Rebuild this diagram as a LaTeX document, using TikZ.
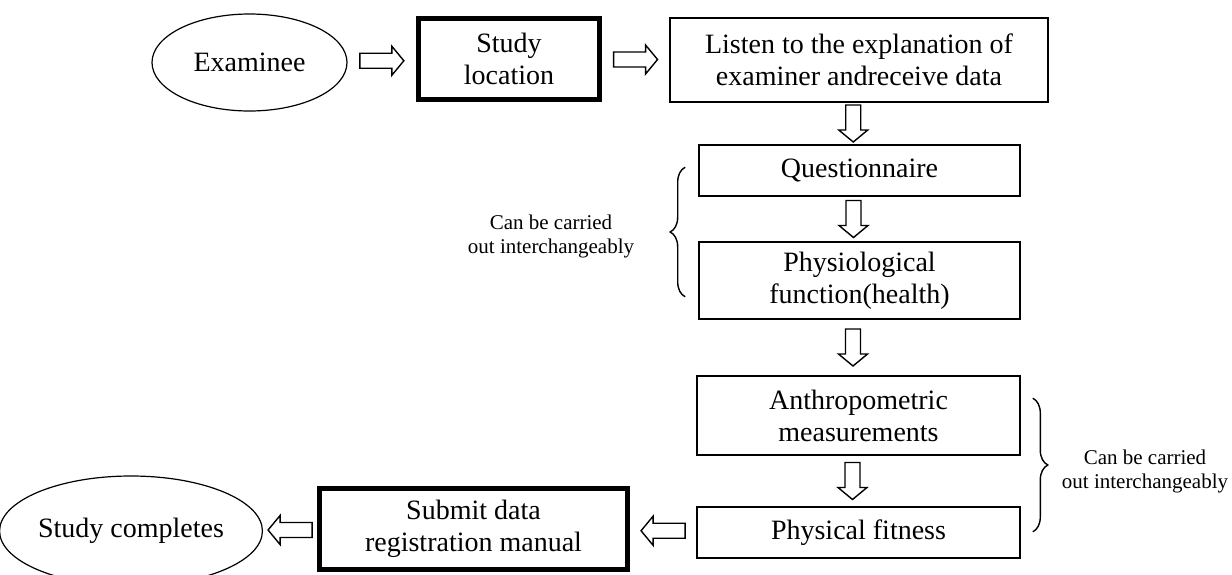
\documentclass[tikz,border=0pt]{standalone}
\usepackage{fontspec}
\setmainfont{Liberation Serif}
\usepackage{tikz}
\usetikzlibrary{shapes,arrows,positioning,calc,decorations.pathreplacing}

\begin{document}
\begin{tikzpicture}[x=0.5pt, y=-0.5pt,
  process/.style={rectangle, draw, line width=0.8pt, align=center, inner sep=0pt, font=\fontsize{14}{16}\selectfont},
  boldprocess/.style={process, line width=2.4pt},
  terminal/.style={ellipse, draw, line width=0.6pt, inner sep=0pt, font=\fontsize{14}{16}\selectfont},
  remark/.style={align=center, font=\fontsize{10.5}{12}\selectfont},
  curly/.style={decorate, decoration={brace, amplitude=7.5pt}, line width=0.7pt},
  flow/.pic={\draw[line width=0.7pt] (-#1,-7.5) -- (#1-12,-7.5) -- (#1-12,-14.5) -- (#1,0) -- (#1-12,14.5) -- (#1-12,7.5) -- (-#1,7.5) -- cycle;}
]
\useasboundingbox (0,0) rectangle (1232,574);

% Top row
\node[terminal, minimum width=97.5pt, minimum height=48.5pt] (examinee) at (249.5,62.5) {Examinee};
\node[boldprocess, minimum width=90.5pt, minimum height=40.5pt] (location) at (509,59) {Study\\location};
\node[process, minimum width=189pt, minimum height=42pt] (listen) at (859,60) {Listen to the explanation of\\examiner andreceive data};

% Main column
\node[process, minimum width=160.5pt, minimum height=25.5pt] (quest) at (859.5,170.5) {Questionnaire};
\node[process, minimum width=160.5pt, minimum height=38.5pt] (physio) at (859.5,280.5) {Physiological\\function(health)};
\node[process, minimum width=161.5pt, minimum height=39.5pt] (anthro) at (858.5,415.5) {Anthropometric\\measurements};
\node[process, minimum width=161.5pt, minimum height=25.5pt] (fitness) at (858.5,532.5) {Physical fitness};

% Bottom row
\node[boldprocess, minimum width=154pt, minimum height=40.5pt] (submit) at (473.5,529) {Submit data\\registration manual};
\node[terminal, minimum width=119pt, minimum height=55pt] (complete) at (131,531) {Study completes};

% Arrows
\pic at ($(examinee.east)!0.5!(location.west)$) {flow=22};
\pic at ($(location.east)!0.5!(listen.west)$) {flow=22};
\foreach \a/\b in {listen/quest, quest/physio, physio/anthro, anthro/fitness} {
  \pic[rotate=-90] at ($(\a.south)!0.5!(\b.north)+(-6,0)$) {flow=18.5};
}
\pic[rotate=180] at ($(fitness.west)!0.5!(submit.east)$) {flow=22};
\pic[rotate=180] at ($(submit.west)!0.5!(complete.east)$) {flow=22};

% Braces
\draw[curly] ($(physio.south west)+(-13,-23)$) -- ($(quest.north west)+(-13,23)$);
\node[remark] (leftnote) at (551,236) {Can be carried\\out interchangeably};
\draw[curly] ($(anthro.north east)+(12,23)$) -- ($(fitness.south east)+(12,-27)$);
\node[remark] (rightnote) at (1145,471) {Can be carried\\out interchangeably};

\end{tikzpicture}
\end{document}
